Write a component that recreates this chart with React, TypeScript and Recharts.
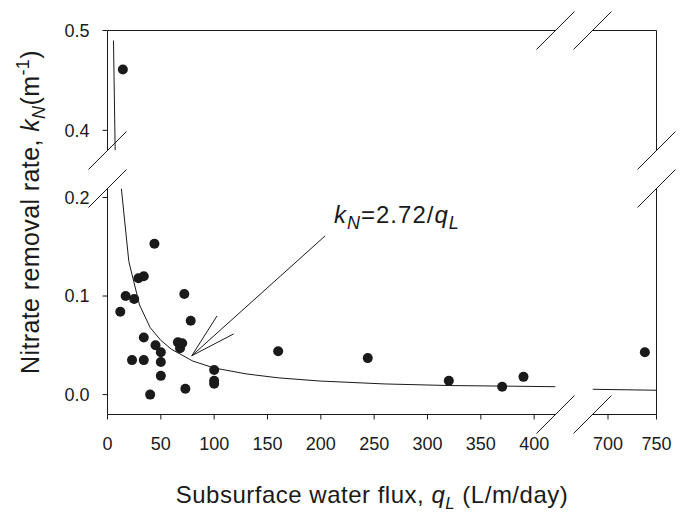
import React from 'react';
import { ComposedChart, Scatter, Line, XAxis, YAxis, ReferenceLine } from 'recharts';

const W = 689;
const H = 513;
const FONT = '"Liberation Sans", Arial, Helvetica, sans-serif';
const INK = '#1a1a1a';

// q_L (L/m/day) vs k_N (1/m)
const lowFluxPoints = [
  { x: 12, y: 0.084 }, { x: 17, y: 0.1 }, { x: 23, y: 0.035 }, { x: 25, y: 0.097 },
  { x: 29, y: 0.118 }, { x: 34, y: 0.12 }, { x: 34, y: 0.058 }, { x: 34, y: 0.035 },
  { x: 40, y: 0.0 }, { x: 44, y: 0.153 }, { x: 45, y: 0.05 }, { x: 50, y: 0.043 },
  { x: 50, y: 0.033 }, { x: 50, y: 0.019 }, { x: 66, y: 0.053 }, { x: 68, y: 0.047 },
  { x: 70, y: 0.052 }, { x: 72, y: 0.102 }, { x: 73, y: 0.006 }, { x: 78, y: 0.075 },
  { x: 100, y: 0.025 }, { x: 100, y: 0.014 }, { x: 100, y: 0.011 }, { x: 160, y: 0.044 },
  { x: 244, y: 0.037 }, { x: 320, y: 0.014 }, { x: 370, y: 0.008 }, { x: 390, y: 0.018 },
];
const highFluxPoints = [{ x: 738, y: 0.043 }];
const outlierPoints = [{ x: 14.4, y: 0.461 }];

// fitted curve k_N = 2.72/q_L as drawn in each panel
const fitLow = [
  { x: 13, y: 0.209 }, { x: 20, y: 0.135 }, { x: 30, y: 0.091 }, { x: 40, y: 0.068 },
  { x: 50, y: 0.055 }, { x: 60, y: 0.046 }, { x: 80, y: 0.034 }, { x: 100, y: 0.027 },
  { x: 130, y: 0.021 }, { x: 160, y: 0.017 }, { x: 200, y: 0.0137 }, { x: 260, y: 0.0108 },
  { x: 320, y: 0.0092 }, { x: 380, y: 0.0085 }, { x: 420, y: 0.008 },
];
const fitHigh = [{ x: 684, y: 0.0054 }, { x: 750, y: 0.0044 }];
const fitTop = [{ x: 5.6, y: 0.49 }, { x: 7.2, y: 0.38 }];

const arrowShaft = [{ x: 204, y: 0.161 }, { x: 79, y: 0.0394 }];
const arrowHeadA = [{ x: 79, y: 0.0394 }, { x: 102.7, y: 0.0798 }];
const arrowHeadB = [{ x: 79, y: 0.0394 }, { x: 118.3, y: 0.0616 }];

const xTicksLeft = [0, 50, 100, 150, 200, 250, 300, 350, 400];
const xTicksRight = [700, 750];
const yTicksLow = [0, 0.1, 0.2];
const yTicksHigh = [0.4, 0.5];

const xDomainLeft: [number, number] = [0, 420];
const xDomainRight: [number, number] = [684, 750];
const yDomainLow: [number, number] = [-0.0202, 0.2091];
const yDomainHigh: [number, number] = [0.3798, 0.5];

// pixel boxes of the four panels
const LEFT = 107.5;
const MID_L = 555.5;
const MID_R = 592.5;
const RIGHT = 656.5;
const TOP = 30.5;
const BRK_T = 150.5;
const BRK_B = 188.5;
const BOTTOM = 414.5;

const tickStyle = { fill: INK, fontSize: 18, fontFamily: FONT };
const axisLine = { stroke: INK, strokeWidth: 1 };

const Dot = (p: any) => <circle cx={p.cx} cy={p.cy} r={5} fill={INK} />;

const fmtY = (v: number) => v.toFixed(1);

const layer: React.CSSProperties = { position: 'absolute', left: 0, top: 0 };

function TopLeft() {
  return (
    <div style={layer}>
      <ComposedChart width={W} height={H}
        margin={{ top: TOP - 1, left: LEFT - 60, right: W - MID_L, bottom: H - BRK_T }}>
        <XAxis xAxisId={0} type="number" dataKey="x" orientation="top" height={1}
          domain={xDomainLeft} allowDataOverflow tick={false} tickLine={false} axisLine={axisLine} />
        <YAxis yAxisId={0} type="number" dataKey="y" width={60} domain={yDomainHigh} allowDataOverflow
          ticks={yTicksHigh} interval={0} tickFormatter={fmtY} tickSize={5} tickMargin={13}
          tick={tickStyle} axisLine={axisLine} tickLine={axisLine} />
        <Line data={fitTop} dataKey="y" type="linear" dot={false} stroke={INK} strokeWidth={1}
          isAnimationActive={false} />
        <Scatter data={outlierPoints} dataKey="y" shape={Dot} isAnimationActive={false} />
      </ComposedChart>
    </div>
  );
}

function TopRight() {
  return (
    <div style={layer}>
      <ComposedChart width={W} height={H}
        margin={{ top: TOP - 1, left: MID_R, right: W - RIGHT - 1, bottom: H - BRK_T }}>
        <XAxis xAxisId={0} type="number" dataKey="x" orientation="top" height={1}
          domain={xDomainRight} allowDataOverflow tick={false} tickLine={false} axisLine={axisLine} />
        <YAxis yAxisId={0} type="number" dataKey="y" orientation="right" width={1}
          domain={yDomainHigh} allowDataOverflow tick={false} tickLine={false} axisLine={axisLine} />
        <Scatter data={[]} dataKey="y" isAnimationActive={false} />
      </ComposedChart>
    </div>
  );
}

function BottomLeft() {
  return (
    <div style={layer}>
      <ComposedChart width={W} height={H}
        margin={{ top: BRK_B, left: LEFT - 60, right: W - MID_L, bottom: H - BOTTOM - 40 }}>
        <XAxis xAxisId={0} type="number" dataKey="x" height={40} domain={xDomainLeft} allowDataOverflow
          ticks={xTicksLeft} interval={0} tickSize={5} tickMargin={18} tick={tickStyle}
          axisLine={axisLine} tickLine={axisLine} />
        <YAxis yAxisId={0} type="number" dataKey="y" width={60} domain={yDomainLow} allowDataOverflow
          ticks={yTicksLow} interval={0} tickFormatter={fmtY} tickSize={5} tickMargin={13}
          tick={tickStyle} axisLine={axisLine} tickLine={axisLine} />
        <Line data={fitLow} dataKey="y" type="linear" dot={false} stroke={INK} strokeWidth={1}
          isAnimationActive={false} />
        <ReferenceLine segment={arrowShaft} stroke={INK} strokeWidth={1} ifOverflow="visible" />
        <ReferenceLine segment={arrowHeadA} stroke={INK} strokeWidth={1} ifOverflow="visible" />
        <ReferenceLine segment={arrowHeadB} stroke={INK} strokeWidth={1} ifOverflow="visible" />
        <Scatter data={lowFluxPoints} dataKey="y" shape={Dot} isAnimationActive={false} />
      </ComposedChart>
    </div>
  );
}

function BottomRight() {
  return (
    <div style={layer}>
      <ComposedChart width={W} height={H}
        margin={{ top: BRK_B, left: MID_R, right: W - RIGHT - 1, bottom: H - BOTTOM - 40 }}>
        <XAxis xAxisId={0} type="number" dataKey="x" height={40} domain={xDomainRight} allowDataOverflow
          ticks={xTicksRight} interval={0} tickSize={5} tickMargin={18} tick={tickStyle}
          axisLine={axisLine} tickLine={axisLine} />
        <YAxis yAxisId={0} type="number" dataKey="y" orientation="right" width={1}
          domain={yDomainLow} allowDataOverflow tick={false} tickLine={false} axisLine={axisLine} />
        <Line data={fitHigh} dataKey="y" type="linear" dot={false} stroke={INK} strokeWidth={1}
          isAnimationActive={false} />
        <Scatter data={highFluxPoints} dataKey="y" shape={Dot} isAnimationActive={false} />
      </ComposedChart>
    </div>
  );
}

// axis-break marks and titles
function Overlay() {
  const slash = (cx: number, cy: number, k: string) => (
    <line key={k} x1={cx - 19} y1={cy + 19} x2={cx + 19} y2={cy - 19} stroke={INK} strokeWidth={1} />
  );
  return (
    <svg width={W} height={H} style={{ ...layer, pointerEvents: 'none' }}>
      {slash(MID_L, TOP, 't1')}
      {slash(MID_R, TOP, 't2')}
      {slash(MID_L, BOTTOM, 'b1')}
      {slash(MID_R, BOTTOM, 'b2')}
      {slash(LEFT, BRK_T, 'l1')}
      {slash(LEFT, BRK_B, 'l2')}
      {slash(RIGHT, BRK_T, 'r1')}
      {slash(RIGHT, BRK_B, 'r2')}
      <text x={334} y={223} fontFamily={FONT} fontSize={24} letterSpacing={1} fill={INK}>
        <tspan fontStyle="italic">k</tspan>
        <tspan fontStyle="italic" fontSize={18} dy={6}>N</tspan>
        <tspan dy={-6}>=2.72/</tspan>
        <tspan fontStyle="italic">q</tspan>
        <tspan fontStyle="italic" fontSize={18} dy={6}>L</tspan>
      </text>
      <text x={372} y={503} textAnchor="middle" fontFamily={FONT} fontSize={24} letterSpacing={0.5}
        fill={INK}>
        Subsurface water flux,{' '}
        <tspan fontStyle="italic">q</tspan>
        <tspan fontStyle="italic" fontSize={17} dy={6}>L</tspan>
        <tspan dy={-6}> (L/m/day)</tspan>
      </text>
      <text x={39} y={212} textAnchor="middle" transform="rotate(-90 39 212)" fontFamily={FONT}
        fontSize={25} letterSpacing={0.4} fill={INK}>
        Nitrate removal rate,{' '}
        <tspan fontStyle="italic">k</tspan>
        <tspan fontStyle="italic" fontSize={18} dy={6}>N</tspan>
        <tspan dy={-6}>(m</tspan>
        <tspan fontSize={18} dy={-10}>-1</tspan>
        <tspan dy={10}>)</tspan>
      </text>
    </svg>
  );
}

export default function App() {
  return (
    <div style={{ position: 'absolute', left: 0, top: 0, width: W, height: H, background: '#fff' }}>
      <TopLeft />
      <TopRight />
      <BottomLeft />
      <BottomRight />
      <Overlay />
    </div>
  );
}
